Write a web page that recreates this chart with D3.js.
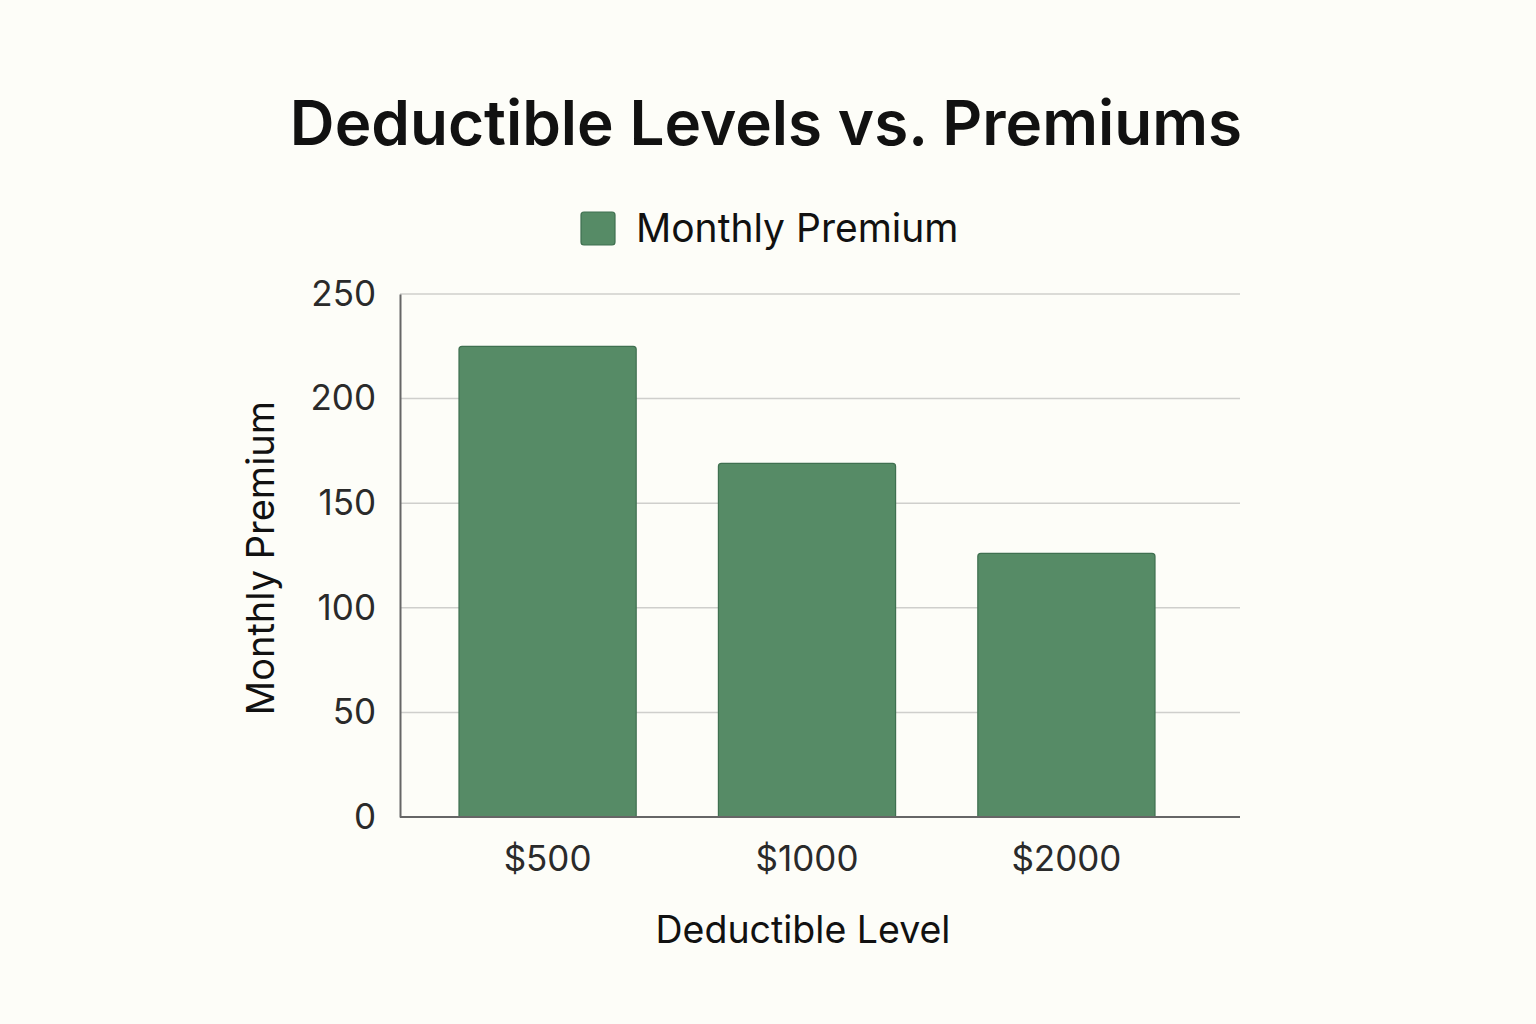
<!DOCTYPE html>
<html>
<head>
<meta charset="utf-8">
<script src="https://cdn.jsdelivr.net/npm/d3@7"></script>
<style>
  html, body { margin: 0; padding: 0; background: #fdfdf8; }
  svg { display: block; font-family: Inter, "Noto Sans", sans-serif; }
</style>
</head>
<body>
<script>
// data
const categories = ['$500', '$1000', '$2000'];
const premiums = [225, 169, 126];
const yTicks = [0, 50, 100, 150, 200, 250];
const seriesName = 'Monthly Premium';

const W = 1536, H = 1024;
const PLOT = {left: 400, right: 1240, top: 294, bottom: 817};

const svg = d3.select('body').append('svg')
  .attr('width', W).attr('height', H);

svg.append('rect').attr('width', W).attr('height', H).attr('fill', '#fdfdf8');

// scales
const x = d3.scaleBand()
  .domain(categories)
  .range([459, 1155])
  .paddingInner(0.317)
  .paddingOuter(0);
const y = d3.scaleLinear()
  .domain([0, 250])
  .range([PLOT.bottom, PLOT.top]);

// gridlines
svg.append('g')
  .selectAll('line')
  .data(yTicks.filter(d => d > 0))
  .join('line')
  .attr('x1', PLOT.left).attr('x2', PLOT.right)
  .attr('y1', d => y(d)).attr('y2', d => y(d))
  .attr('stroke', '#cfcfcc').attr('stroke-width', 1.5);

// bars (rounded top corners)
const r = 3;
svg.append('g')
  .selectAll('path')
  .data(premiums)
  .join('path')
  .attr('d', (d, i) => {
    const x0 = x(categories[i]), x1 = x0 + x.bandwidth();
    const y0 = y(d), yb = y(0);
    return `M${x0},${yb}V${y0 + r}Q${x0},${y0} ${x0 + r},${y0}H${x1 - r}Q${x1},${y0} ${x1},${y0 + r}V${yb}Z`;
  })
  .attr('fill', '#568b66')
  .attr('stroke', '#3f7050')
  .attr('stroke-width', 1.2);

// axes
const yAxis = svg.append('g')
  .attr('transform', `translate(${PLOT.left},0)`)
  .call(d3.axisLeft(y).tickValues(yTicks).tickSize(0).tickPadding(24));
yAxis.select('.domain').attr('stroke', '#666').attr('stroke-width', 2);
yAxis.selectAll('text')
  .attr('font-size', 35).attr('fill', '#2a2a2a')
  .attr('font-family', 'Inter, sans-serif');

const xAxis = svg.append('g')
  .attr('transform', `translate(0,${PLOT.bottom})`)
  .call(d3.axisBottom(x).tickSize(0).tickPadding(29));
xAxis.select('.domain').remove();
svg.append('line')
  .attr('x1', PLOT.left).attr('x2', PLOT.right)
  .attr('y1', PLOT.bottom).attr('y2', PLOT.bottom)
  .attr('stroke', '#666').attr('stroke-width', 2);
xAxis.selectAll('text')
  .attr('font-size', 35).attr('fill', '#2a2a2a')
  .attr('font-family', 'Inter, sans-serif');

// title
svg.append('text')
  .attr('x', 766).attr('y', 145)
  .attr('text-anchor', 'middle')
  .attr('font-size', 62).attr('font-weight', 600)
  .attr('fill', '#111')
  .text('Deductible Levels vs. Premiums');

// legend
svg.append('rect')
  .attr('x', 581).attr('y', 212).attr('width', 34).attr('height', 33)
  .attr('rx', 3)
  .attr('fill', '#568b66').attr('stroke', '#3f7050').attr('stroke-width', 1.2);
svg.append('text')
  .attr('x', 636).attr('y', 242)
  .attr('font-size', 39).attr('fill', '#111')
  .text(seriesName);

// axis titles
svg.append('text')
  .attr('x', 803).attr('y', 943)
  .attr('text-anchor', 'middle')
  .attr('font-size', 37.5).attr('fill', '#111')
  .text('Deductible Level');
svg.append('text')
  .attr('transform', 'translate(274,558) rotate(-90)')
  .attr('text-anchor', 'middle')
  .attr('font-size', 38).attr('fill', '#111')
  .text('Monthly Premium');
</script>
</body>
</html>
